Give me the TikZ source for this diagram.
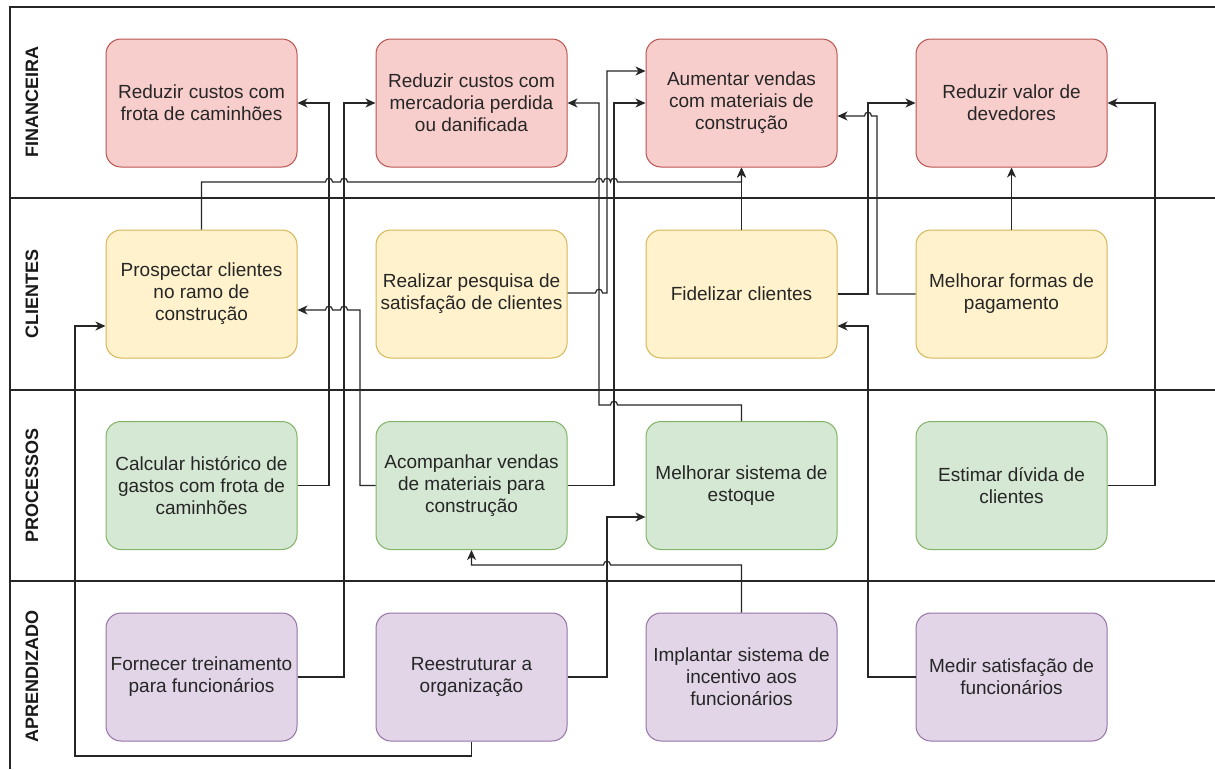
\documentclass[tikz,border=0pt]{standalone}
\usepackage{fontspec}
\setmainfont{Liberation Sans}
\usetikzlibrary{arrows.meta}
\definecolor{redf}{HTML}{F8CECC}\definecolor{redd}{HTML}{B85450}
\definecolor{yelf}{HTML}{FFF2CC}\definecolor{yeld}{HTML}{D6B656}
\definecolor{grnf}{HTML}{D5E8D4}\definecolor{grnd}{HTML}{82B366}
\definecolor{purf}{HTML}{E1D5E7}\definecolor{purd}{HTML}{9673A6}
\tikzset{
 box/.style={rounded corners=15pt, minimum width=191pt, minimum height=128pt, inner sep=0pt, align=center, font=\fontsize{19}{22}\selectfont, line width=1pt, text=black!85},
 fin/.style={box, fill=redf, draw=redd},
 cli/.style={box, fill=yelf, draw=yeld},
 pro/.style={box, fill=grnf, draw=grnd},
 apr/.style={box, fill=purf, draw=purd},
 lanelbl/.style={rotate=90, font=\bfseries\fontsize{18}{20}\selectfont, text=black!90},
 laneline/.style={line width=1.3pt, draw=black!85},
 conn/.style={line width=1.2pt, draw=black!85},
 arr/.style={conn, -{Stealth[length=10pt,width=9pt,inset=3pt]}}
}
\begin{document}
\begin{tikzpicture}[x=1pt,y=-1pt]
\useasboundingbox (0,0) rectangle (1215,769);
\fill[white] (0,0) rectangle (1215,769);
% frame and lanes
\draw[laneline] (1215,7) -- (10,7) -- (10,769);
\draw[laneline] (10,198) -- (1215,198);
\draw[laneline] (10,390) -- (1215,390);
\draw[laneline] (10,581) -- (1215,581);
\node[lanelbl] (L1) at (32,102) {FINANCEIRA};
\node[lanelbl] (L2) at (32,294) {CLIENTES};
\node[lanelbl] (L3) at (32,485) {PROCESSOS};
\node[lanelbl] (L4) at (32,676) {APRENDIZADO};
% boxes
\node[fin] (F1) at (201.5,103) {Reduzir custos com\\frota de caminhões};
\node[fin] (F2) at (471.5,103) {Reduzir custos com\\mercadoria perdida\\ou danificada};
\node[fin] (F3) at (741.5,103) {Aumentar vendas\\com materiais de\\construção};
\node[fin] (F4) at (1011.5,103) {Reduzir valor de\\devedores};
\node[cli] (C1) at (201.5,294) {Prospectar clientes\\no ramo de\\construção};
\node[cli] (C2) at (471.5,294) {Realizar pesquisa de\\satisfação de clientes};
\node[cli] (C3) at (741.5,294) {Fidelizar clientes};
\node[cli] (C4) at (1011.5,294) {Melhorar formas de\\pagamento};
\node[pro] (P1) at (201.5,485.5) {Calcular histórico de\\gastos com frota de\\caminhões};
\node[pro] (P2) at (471.5,485.5) {Acompanhar vendas\\de materiais para\\construção};
\node[pro] (P3) at (741.5,485.5) {Melhorar sistema de\\estoque};
\node[pro] (P4) at (1011.5,485.5) {Estimar dívida de\\clientes};
\node[apr] (A1) at (201.5,677) {Fornecer treinamento\\para funcionários};
\node[apr] (A2) at (471.5,677) {Reestruturar a\\organização};
\node[apr] (A3) at (741.5,677) {Implantar sistema de\\incentivo aos\\funcionários};
\node[apr] (A4) at (1011.5,677) {Medir satisfação de\\funcionários};
% connectors
\draw[arr] (P1.east) -- (329,485.5) -- (329,103) -- (F1.east);
\draw[arr] (A1.east) -- (344,677) -- (344,103) -- (F2.west);
\draw[arr] (C1.north) -- (201.5,182) -- (325.5,182) .. controls (325.5,177) and (332.5,177) .. (332.5,182)
  -- (340.5,182) .. controls (340.5,177) and (347.5,177) .. (347.5,182)
  -- (595.5,182) .. controls (595.5,177) and (602.5,177) .. (602.5,182)
  -- (603.5,182) .. controls (603.5,177) and (610.5,177) .. (610.5,182)
  .. controls (610.5,177) and (617.5,177) .. (617.5,182)
  -- (741.5,182) -- (F3.south);
\draw[arr] (P2.west) -- (360,485.5) -- (360,310) -- (347.5,310) .. controls (347.5,305) and (340.5,305) .. (340.5,310)
  -- (332.5,310) .. controls (332.5,305) and (325.5,305) .. (325.5,310) -- (C1.east |- 0,310);
\draw[arr] (A2.south) -- (471.5,756) -- (75,756) -- (75,326) -- (C1.west |- 0,326);
\draw[arr] (A2.east) -- (607,677) -- (607,517) -- (P3.west |- 0,517);
\draw[arr] (A3.north) -- (741.5,565) -- (610.5,565) .. controls (610.5,560) and (603.5,560) .. (603.5,565) -- (471.5,565) -- (P2.south);
\draw[arr] (P3.north) -- (741.5,405) -- (617.5,405) .. controls (617.5,400) and (610.5,400) .. (610.5,405) -- (599,405) -- (599,103) -- (F2.east);
\draw[arr] (C2.east |- 0,293) -- (595.5,293) .. controls (595.5,288) and (602.5,288) .. (602.5,293) -- (607,293) -- (607,71) -- (F3.west |- 0,71);
\draw[arr] (P2.east) -- (614,485.5) -- (614,103) -- (F3.west);
\draw[arr] (C3.north) -- (F3.south);
\draw[arr] (C3.east) -- (868,294) -- (868,103) -- (F4.west);
\draw[arr] (C4.west) -- (877,294) -- (877,116) -- (871.5,116) .. controls (871.5,111) and (864.5,111) .. (864.5,116) -- (F3.east |- 0,116);
\draw[arr] (C4.north) -- (F4.south);
\draw[arr] (P4.east) -- (1155,485.5) -- (1155,103) -- (F4.east);
\draw[arr] (A4.west) -- (868,677) -- (868,326) -- (C3.east |- 0,326);
\end{tikzpicture}
\end{document}
